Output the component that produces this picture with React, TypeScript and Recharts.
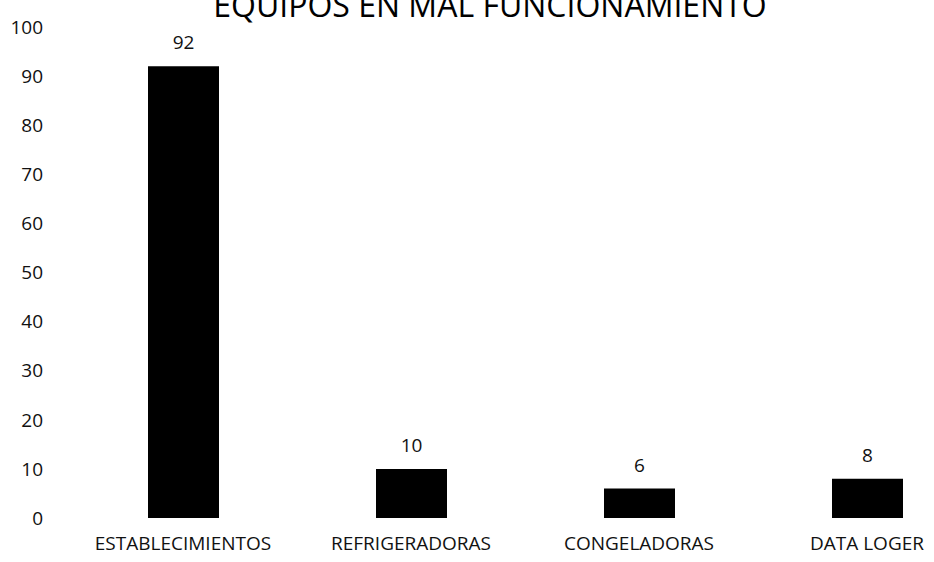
import React from "react";
import { BarChart, Bar, XAxis, YAxis, LabelList } from "recharts";

const categories = ["ESTABLECIMIENTOS", "REFRIGERADORAS", "CONGELADORAS", "DATA LOGER"];
const values = [92, 10, 6, 8];
const yTicks = [0, 10, 20, 30, 40, 50, 60, 70, 80, 90, 100];

const data = categories.map((name, i) => ({ name, value: values[i] }));

const font = "'Open Sans', 'Liberation Sans', sans-serif";

export default function App() {
	return (
		<div
			style={{
				position: "fixed",
				left: 0,
				top: 0,
				width: 934,
				height: 562,
				overflow: "hidden",
				background: "#fff",
				fontFamily: font,
			}}
		>
			<div
				style={{
					position: "absolute",
					top: -17,
					left: 0,
					width: 980,
					textAlign: "center",
					fontSize: 32,
					lineHeight: "normal",
					color: "#000",
					whiteSpace: "nowrap",
				}}
			>
				EQUIPOS EN MAL FUNCIONAMIENTO
			</div>
			<BarChart
				width={981}
				height={562}
				data={data}
				margin={{ top: 27, right: 0, bottom: 0, left: 0 }}
				barSize={71}
			>
				<XAxis
					dataKey="name"
					axisLine={false}
					tickLine={false}
					tickSize={0}
					tickMargin={19}
					height={44}
					interval={0}
					tick={{ fill: "#111", fontSize: 19, fontFamily: font }}
				/>
				<YAxis
					domain={[0, 100]}
					ticks={yTicks}
					axisLine={false}
					tickLine={false}
					tickSize={0}
					tickMargin={26}
					width={69}
					tick={{ fill: "#111", fontSize: 19, fontFamily: font }}
				/>
				<Bar dataKey="value" fill="#000" isAnimationActive={false}>
					<LabelList
						dataKey="value"
						position="top"
						offset={17}
						fill="#111"
						fontSize={19}
						fontFamily={font}
					/>
				</Bar>
			</BarChart>
		</div>
	);
}
